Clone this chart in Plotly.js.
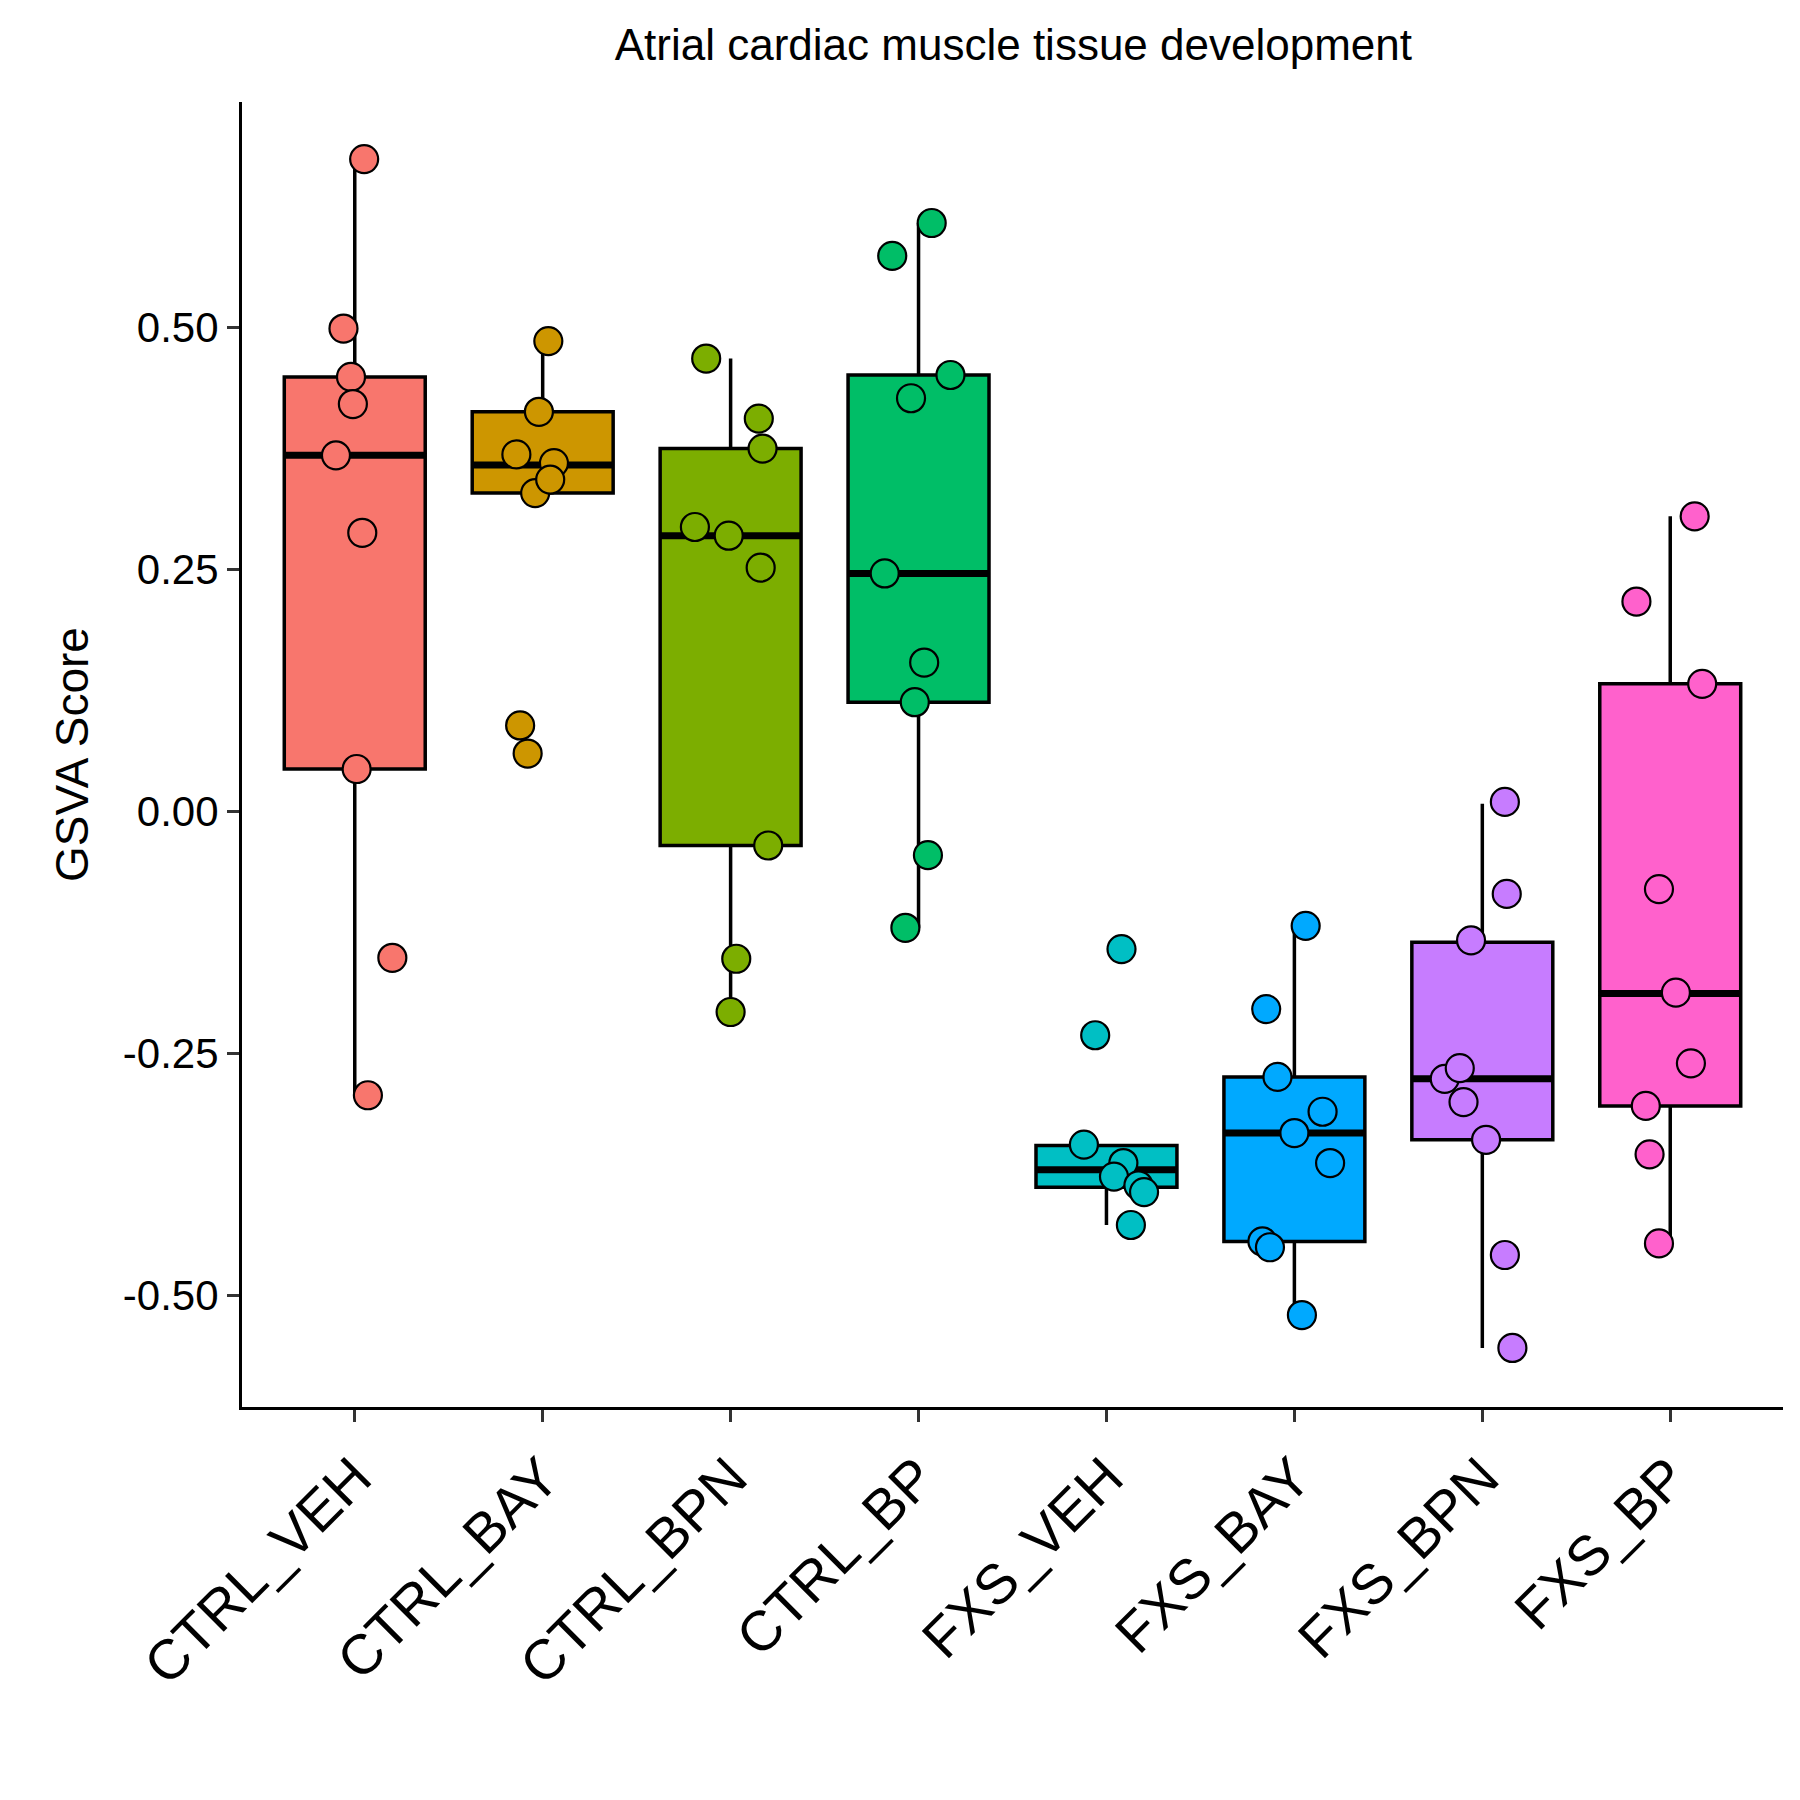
<!DOCTYPE html>
<html>
<head>
<meta charset="utf-8">
<script src="https://cdn.plot.ly/plotly-3.0.1.min.js"></script>
<style>body{margin:0;background:#fff}#chart{width:1800px;height:1800px}</style>
</head>
<body>
<div id="chart"></div>
<script>
/* ── Data ────────────────────────────────────────────────── */
const GROUPS = ['CTRL_VEH', 'CTRL_BAY', 'CTRL_BPN', 'CTRL_BP', 'FXS_VEH', 'FXS_BAY', 'FXS_BPN', 'FXS_BP'];
const COLORS = ['#F8766D', '#CD9600', '#7CAE00', '#00BE67', '#00BFC4', '#00A9FF', '#C77CFF', '#FF61CC'];

const Q1     = [0.044, 0.329, -0.035, 0.113, -0.388, -0.444, -0.339, -0.304];
const MEDIAN = [0.368, 0.358, 0.285, 0.246, -0.370, -0.332, -0.276, -0.188];
const Q3     = [0.449, 0.413, 0.375, 0.451, -0.345, -0.274, -0.135, 0.132];
const LOWER  = [-0.293, 0.329, -0.207, -0.120, -0.427, -0.520, -0.554, -0.446];
const UPPER  = [0.674, 0.486, 0.468, 0.608, -0.345, -0.118, 0.008, 0.305];

const SCORES = [
  [0.674, 0.499, 0.449, 0.421, 0.368, 0.288, 0.044, -0.151, -0.293],
  [0.486, 0.413, 0.369, 0.360, 0.329, 0.343, 0.089, 0.060],
  [0.468, 0.406, 0.375, 0.294, 0.285, 0.252, -0.035, -0.152, -0.207],
  [0.608, 0.574, 0.451, 0.427, 0.246, 0.154, 0.113, -0.045, -0.120],
  [-0.142, -0.231, -0.344, -0.363, -0.377, -0.386, -0.393, -0.427],
  [-0.118, -0.204, -0.274, -0.310, -0.332, -0.363, -0.444, -0.450, -0.520],
  [0.010, -0.085, -0.133, -0.276, -0.265, -0.300, -0.339, -0.458, -0.554],
  [0.305, 0.217, 0.132, -0.080, -0.187, -0.260, -0.304, -0.354, -0.446]
];
// horizontal jitter of each point, in category units
const JITTER = [
  [0.05, -0.06, -0.02, -0.01, -0.10, 0.04, 0.01, 0.20, 0.07],
  [0.03, -0.02, -0.14, 0.06, -0.04, 0.04, -0.12, -0.08],
  [-0.13, 0.15, 0.17, -0.19, -0.01, 0.16, 0.20, 0.03, 0.00],
  [0.07, -0.14, 0.17, -0.04, -0.18, 0.03, -0.02, 0.05, -0.07],
  [0.08, -0.06, -0.12, 0.09, 0.04, 0.17, 0.20, 0.13],
  [0.06, -0.15, -0.09, 0.15, 0.00, 0.19, -0.17, -0.13, 0.04],
  [0.12, 0.13, -0.06, -0.20, -0.12, -0.10, 0.02, 0.12, 0.16],
  [0.13, -0.18, 0.17, -0.06, 0.03, 0.11, -0.13, -0.11, -0.06]
];

const BOX_W = 0.75;
const FONT = 'Liberation Sans, Arial, sans-serif';

const traces = [];
GROUPS.forEach((g, i) => {
  traces.push({
    type: 'box', x: [i], q1: [Q1[i]], median: [MEDIAN[i]], q3: [Q3[i]],
    lowerfence: [LOWER[i]], upperfence: [UPPER[i]],
    width: BOX_W, boxpoints: false, whiskerwidth: 0,
    fillcolor: COLORS[i], line: { color: '#000', width: 3.5 },
    hoverinfo: 'skip', showlegend: false
  });
  // thick median bar
  traces.push({
    type: 'scatter', mode: 'lines',
    x: [i - BOX_W / 2, i + BOX_W / 2], y: [MEDIAN[i], MEDIAN[i]],
    line: { color: '#000', width: 7 }, hoverinfo: 'skip', showlegend: false
  });
});
GROUPS.forEach((g, i) => {
  traces.push({
    type: 'scatter', mode: 'markers', name: g,
    x: SCORES[i].map((_, k) => i + JITTER[i][k]), y: SCORES[i],
    marker: { size: 28, color: COLORS[i], line: { color: '#000', width: 2.2 } },
    showlegend: false
  });
});

const layout = {
  width: 1800, height: 1800,
  paper_bgcolor: '#fff', plot_bgcolor: '#fff',
  margin: { l: 242, r: 17, t: 102, b: 393 },
  font: { family: FONT, color: '#000' },
  title: { text: 'Atrial cardiac muscle tissue development', font: { size: 44, family: FONT }, x: 0.563, xanchor: 'center', y: 0.975, yanchor: 'middle' },
  xaxis: {
    range: [-0.6, 7.6], tickvals: GROUPS.map((_, i) => i), ticktext: GROUPS,
    tickangle: -45, tickfont: { size: 56, color: '#000' },
    showline: true, linecolor: '#000', linewidth: 3, ticks: 'outside', ticklen: 12, tickwidth: 3, tickcolor: '#333',
    showgrid: false, zeroline: false
  },
  yaxis: {
    range: [-0.615, 0.733], tickvals: [-0.5, -0.25, 0, 0.25, 0.5], ticktext: ['-0.50', '-0.25', '0.00', '0.25', '0.50'],
    tickfont: { size: 42, color: '#000' },
    title: { text: 'GSVA Score', font: { size: 46 }, standoff: 20 },
    showline: true, linecolor: '#000', linewidth: 3, ticks: 'outside', ticklen: 12, tickwidth: 3, tickcolor: '#333',
    showgrid: false, zeroline: false
  }
};

Plotly.newPlot('chart', traces, layout, { staticPlot: true });
</script>
</body>
</html>
